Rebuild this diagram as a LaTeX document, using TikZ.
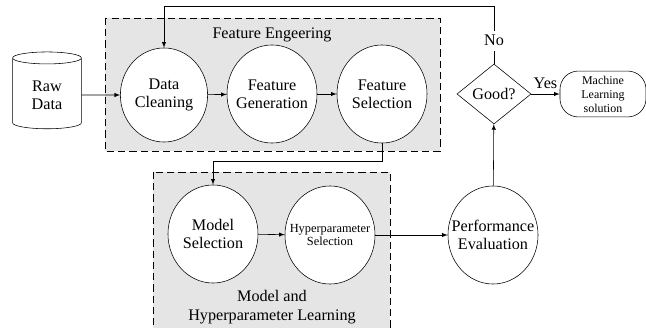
\documentclass[tikz,border=0pt]{standalone}
\usepackage{fontspec}
\setmainfont{Liberation Serif}
\usepackage{tikz}
\usetikzlibrary{shapes.geometric, positioning, arrows}

\begin{document}
\begin{tikzpicture}[x=0.025cm, y=-0.025cm,
	every node/.style={font=\fontsize{11.5}{13}\selectfont},
	step node/.style={ellipse, draw, fill=white, align=center, inner xsep=-8pt, inner ysep=0pt, minimum width=2.25cm, minimum height=2.45cm},
	group/.style={draw, fill=gray!20, dash pattern=on 5pt off 3pt},
	flow/.style={-latex, thin}]
	\useasboundingbox (0,0) rectangle (646,328);
	\draw[group] (105,18) rectangle (440,151);
	\draw[group] (153,172) rectangle (390,345);
	\node (fetitle) at (272,35) {Feature Engeering};
	\node[align=center, font=\fontsize{11.5}{13.5}\selectfont] (mhtitle) at (272,307) {Model and\\Hyperparameter Learning};
	\node[cylinder, draw, fill=white, shape border rotate=90, aspect=0.3, minimum width=1.72cm, minimum height=1.92cm, align=center] (raw) at (47,95) {Raw\\Data};
	\node[step node, minimum width=2.18cm, minimum height=2.35cm] (clean) at (164,95) {Data\\Cleaning};
	\node[step node] (gen) at (272,94) {Feature\\Generation};
	\node[step node] (sel) at (382,94) {Feature\\Selection};
	\node[step node] (model) at (213,234) {Model\\Selection};
	\node[step node, font=\fontsize{8.8}{9.5}\selectfont] (hyper) at (330,235) {Hyperparameter\\Selection};
	\node[step node] (perf) at (493,235) {Performance\\Evaluation};
	\node[diamond, draw, fill=white, inner sep=0pt, aspect=1.23, minimum width=1.85cm, minimum height=1.5cm] (good) at (494,94) {Good?};
	\node[draw, fill=white, rounded corners=13pt, align=center, minimum width=2.15cm, minimum height=1.08cm, font=\fontsize{8.5}{10}\selectfont] (ml) at (603,94) {Machine\\Learning\\solution};
	\coordinate (back) at (494,6);
	\coordinate (down) at (382,161);
	\draw[flow] (raw) -- (clean);
	\draw[flow] (clean) -- (gen);
	\draw[flow] (gen) -- (sel);
	\draw[flow] (sel.south) -- (down) -| (model.north);
	\draw[flow] (model) -- (hyper);
	\draw[flow] (hyper) -- (perf);
	\draw[flow] (perf) -- (good);
	\draw[flow] (good) -- node[above] {Yes} (ml);
	\draw[flow] (good.north) -- node[pos=0.4, fill=white] {No} (back) -| (clean.north);
\end{tikzpicture}
\end{document}
